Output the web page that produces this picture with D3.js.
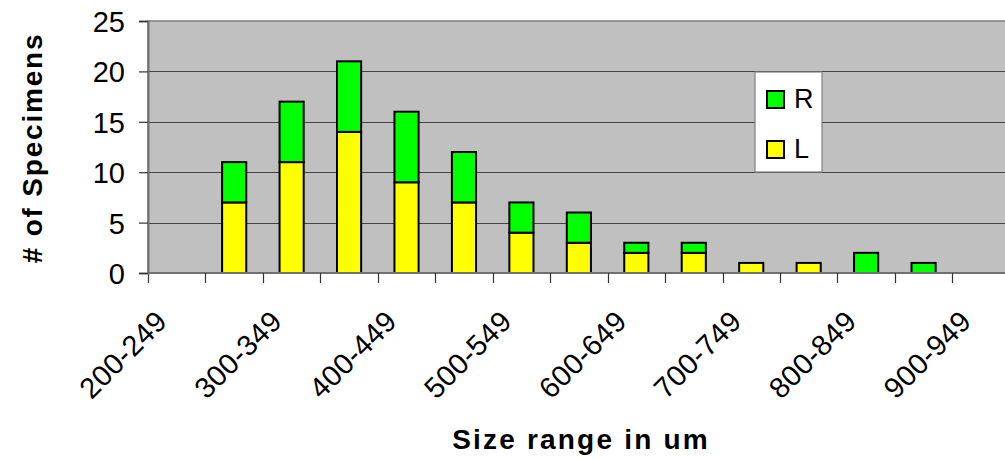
<!DOCTYPE html>
<html><head><meta charset="utf-8">
<script src="https://cdn.jsdelivr.net/npm/d3@7"></script>
<style>
html,body{margin:0;padding:0;background:#fff;overflow:hidden}
svg{display:block;font-family:"Liberation Sans",Arial,sans-serif}
</style></head><body>
<svg id="c" width="1005" height="459"></svg>
<script>
const categories = ["200-249","250-299","300-349","350-399","400-449","450-499","500-549","550-599","600-649","650-699","700-749","750-799","800-849","850-899","900-949"];
const seriesL = [0,7,11,14,9,7,4,3,2,2,1,1,0,0,0];
const seriesR = [0,4,6,7,7,5,3,3,1,1,0,0,2,1,0];
const tickLabels = ["200-249","300-349","400-449","500-549","600-649","700-749","800-849","900-949"];
const yTicks = [0,5,10,15,20,25];

(function(){
const svg = d3.select("#c");
const pLeft = 148, pTop = 21, pBottom = 273, step = 57.45;
const pRight = pLeft + categories.length * step;

const x = d3.scaleBand().domain(categories).range([pLeft, pRight]).padding(0);
const y = d3.scaleLinear().domain([0, 25]).range([pBottom, pTop]);

// plot area
svg.append("rect").attr("x", pLeft).attr("y", pTop).attr("width", pRight - pLeft).attr("height", pBottom - pTop)
  .attr("fill", "#c0c0c0").attr("stroke", "#808080").attr("stroke-width", 1.5);

// gridlines
svg.append("g").selectAll("line").data(yTicks.filter(d => d > 0 && d < 25)).join("line")
  .attr("x1", pLeft).attr("x2", pRight)
  .attr("y1", d => Math.round(y(d)) + 0.5).attr("y2", d => Math.round(y(d)) + 0.5)
  .attr("stroke", "#444").attr("stroke-width", 1.2);

// stacked bars
const stackData = categories.map((c, i) => ({cat: c, L: seriesL[i], R: seriesR[i]}));
const stack = d3.stack().keys(["L", "R"])(stackData);
const colors = {L: "#ffff00", R: "#00ff00"};
const bw = x.bandwidth() * 0.42;
stack.forEach(layer => {
  svg.append("g").selectAll("rect").data(layer.filter(d => d[1] - d[0] > 0)).join("rect")
    .attr("x", d => x(d.data.cat) + (x.bandwidth() - bw) / 2)
    .attr("y", d => y(d[1]))
    .attr("width", bw)
    .attr("height", d => y(d[0]) - y(d[1]))
    .attr("fill", colors[layer.key])
    .attr("stroke", "#000").attr("stroke-width", 2);
});

// x axis line and ticks
svg.append("line").attr("x1", pLeft).attr("x2", pRight).attr("y1", pBottom).attr("y2", pBottom)
  .attr("stroke", "#707070").attr("stroke-width", 2);
const bounds = categories.map(c => x(c)).concat([pRight]);
svg.append("g").selectAll("line").data(bounds).join("line")
  .attr("x1", d => Math.round(d) + 0.5).attr("x2", d => Math.round(d) + 0.5)
  .attr("y1", pBottom).attr("y2", pBottom + 10)
  .attr("stroke", "#333").attr("stroke-width", 1.2);

// x tick labels
svg.append("g").selectAll("text").data(tickLabels).join("text")
  .attr("transform", d => `translate(${x(d) + x.bandwidth() / 2 - 8},${pBottom + 50}) rotate(-45)`)
  .attr("text-anchor", "end")
  .attr("font-size", 29)
  .attr("letter-spacing", 0.4)
  .attr("fill", "#000")
  .text(d => d);

// y axis
const yAxis = d3.axisLeft(y).tickValues(yTicks).tickSize(9).tickPadding(14).tickFormat(d3.format("d"));
const ga = svg.append("g").attr("transform", `translate(${pLeft},0)`).call(yAxis);
ga.select(".domain").attr("stroke", "#707070").attr("stroke-width", 2);
ga.selectAll(".tick line").attr("stroke", "#333").attr("stroke-width", 1.2);
ga.selectAll(".tick text").attr("font-size", 29).attr("font-family", "Liberation Sans, Arial, sans-serif").attr("fill", "#000").attr("dy", "0.36em");

// titles
svg.append("text").attr("transform", `translate(42,148) rotate(-90)`)
  .attr("text-anchor", "middle").attr("font-size", 28).attr("font-weight", "bold")
  .attr("letter-spacing", 1.8)
  .text("# of Specimens");
svg.append("text").attr("x", 581).attr("y", 449)
  .attr("text-anchor", "middle").attr("font-size", 28).attr("font-weight", "bold")
  .attr("letter-spacing", 2.2)
  .text("Size range in um");

// legend
const legendItems = [{k: "R", label: "R"}, {k: "L", label: "L"}];
const lg = svg.append("g");
lg.append("rect").attr("x", 755).attr("y", 72).attr("width", 67).attr("height", 100)
  .attr("fill", "#fff").attr("stroke", "#808080").attr("stroke-width", 1.2);
legendItems.forEach((it, i) => {
  const cy = 99.5 + i * 50;
  lg.append("rect").attr("x", 767).attr("y", cy - 8.5).attr("width", 17).attr("height", 17)
    .attr("fill", colors[it.k]).attr("stroke", "#000").attr("stroke-width", 2);
  lg.append("text").attr("x", 794).attr("y", cy + 8.5).attr("font-size", 27).text(it.label);
});
})();
</script>
</body></html>
